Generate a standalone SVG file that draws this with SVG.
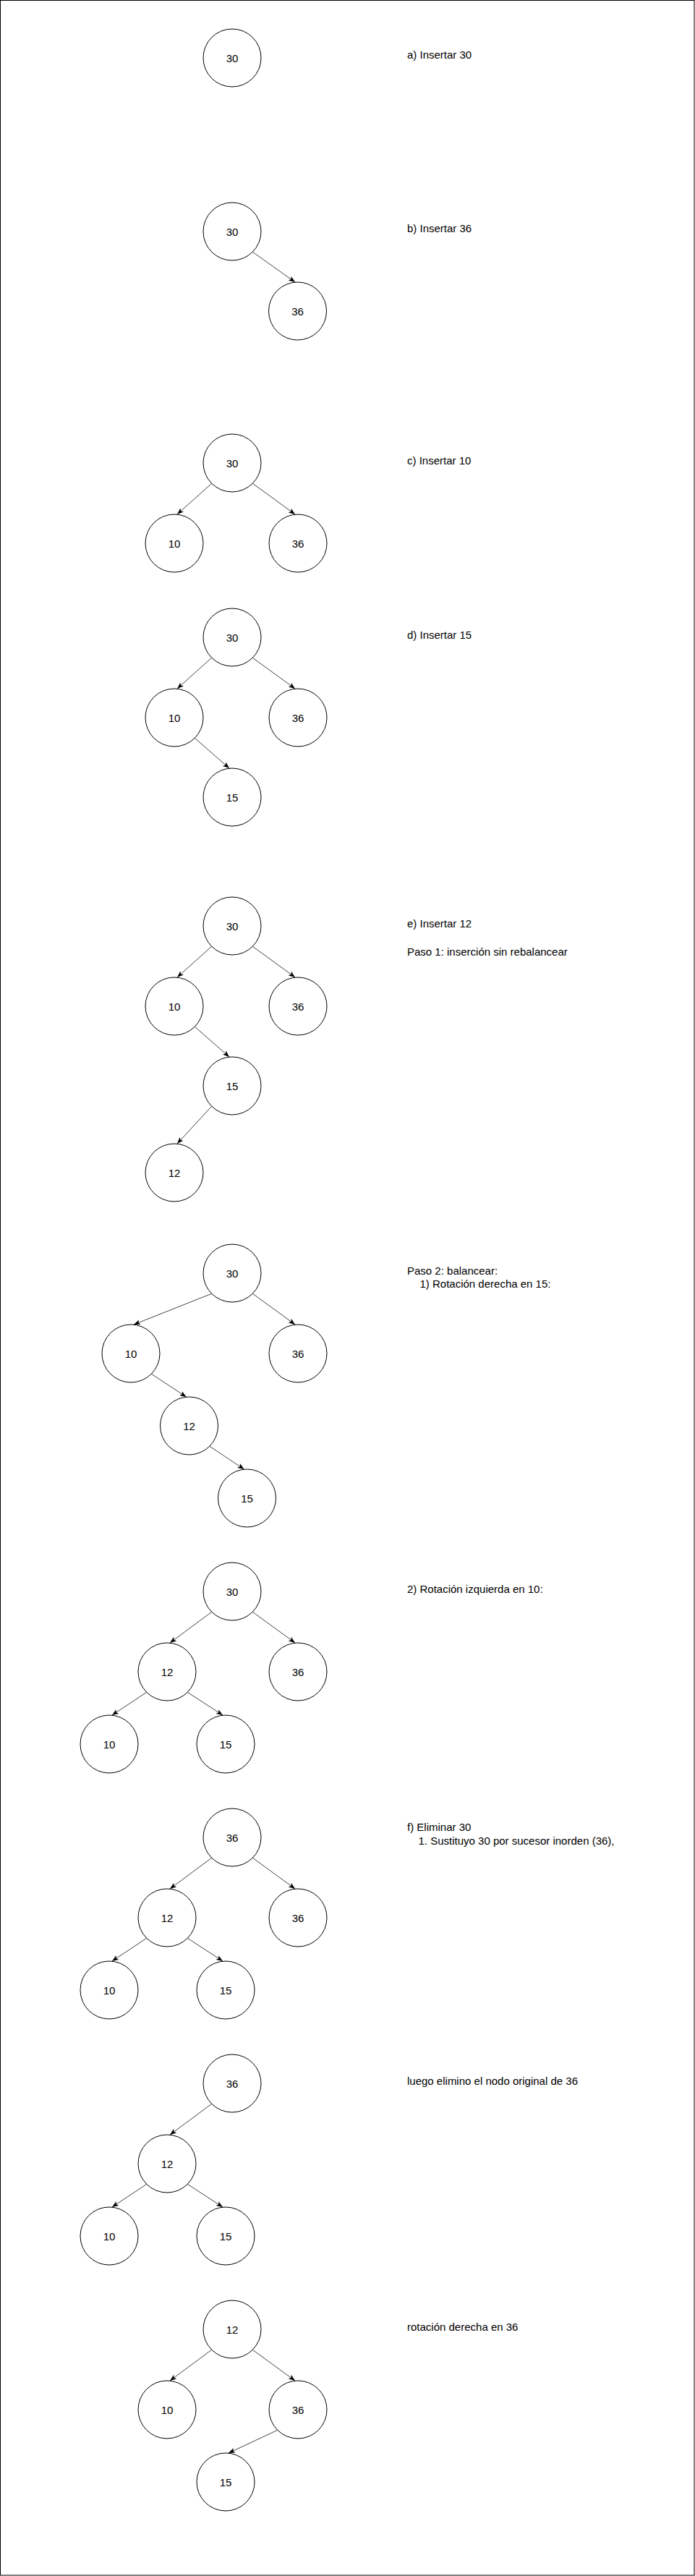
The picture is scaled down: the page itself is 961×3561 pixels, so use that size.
<svg xmlns="http://www.w3.org/2000/svg" width="961" height="3561" viewBox="0 0 961 3561">
<style>
.n ellipse{fill:#fff;stroke:#000;stroke-width:1}
.n text{font-family:"Liberation Sans",Arial,sans-serif;font-size:15px;text-anchor:middle;fill:#000}
.lbl{font-family:"Liberation Sans",Arial,sans-serif;font-size:15px;fill:#000}
.e line{stroke:#444;stroke-width:1;marker-end:url(#ah)}
</style>
<defs>
<marker id="ah" markerUnits="userSpaceOnUse" markerWidth="10" markerHeight="8" refX="9" refY="3.5" orient="auto">
<path d="M0,0 L9,3.5 L0,7 L2.2,3.5 Z" fill="#000"/>
</marker>
</defs>
<rect x="0.5" y="0.5" width="959.5" height="3559.5" fill="#fff" stroke="#000" stroke-width="1"/>
<g id="connectors" class="e">
<line x1="349.3" y1="348.3" x2="408" y2="390"/>
<line x1="292.7" y1="668.3" x2="245" y2="711"/>
<line x1="349.3" y1="668.3" x2="408" y2="711"/>
<line x1="292.7" y1="909.3" x2="245" y2="952"/>
<line x1="349.3" y1="909.3" x2="408" y2="952"/>
<line x1="269.3" y1="1020.3" x2="317" y2="1062"/>
<line x1="292.7" y1="1308.3" x2="245" y2="1351"/>
<line x1="349.3" y1="1308.3" x2="408" y2="1351"/>
<line x1="269.3" y1="1419.3" x2="317" y2="1461"/>
<line x1="292.7" y1="1529.3" x2="245" y2="1581"/>
<line x1="292.7" y1="1788.3" x2="185" y2="1831"/>
<line x1="349.3" y1="1788.3" x2="408" y2="1831"/>
<line x1="209.3" y1="1899.3" x2="257.5" y2="1931"/>
<line x1="289.8" y1="1999.3" x2="337.5" y2="2031"/>
<line x1="292.7" y1="2228.3" x2="235" y2="2271"/>
<line x1="349.3" y1="2228.3" x2="408" y2="2271"/>
<line x1="202.7" y1="2339.3" x2="155" y2="2371"/>
<line x1="259.3" y1="2339.3" x2="308" y2="2371"/>
<line x1="292.7" y1="2568.3" x2="235" y2="2611"/>
<line x1="349.3" y1="2568.3" x2="408" y2="2611"/>
<line x1="202.7" y1="2679.3" x2="155" y2="2711"/>
<line x1="259.3" y1="2679.3" x2="308" y2="2711"/>
<line x1="292.7" y1="2908.3" x2="235" y2="2951"/>
<line x1="202.7" y1="3019.3" x2="155" y2="3051"/>
<line x1="259.3" y1="3019.3" x2="308" y2="3051"/>
<line x1="292.7" y1="3248.3" x2="235" y2="3291"/>
<line x1="349.3" y1="3248.3" x2="408" y2="3291"/>
<line x1="383.7" y1="3359.3" x2="316" y2="3391"/>
</g>
<g id="a30" class="n"><ellipse cx="321" cy="80" rx="40" ry="40"/><text x="321" y="85.5">30</text></g>
<g id="b30" class="n"><ellipse cx="321" cy="320" rx="40" ry="40"/><text x="321" y="325.5">30</text></g>
<g id="b36" class="n"><ellipse cx="411.5" cy="430" rx="40" ry="40"/><text x="411.5" y="435.5">36</text></g>
<g id="c30" class="n"><ellipse cx="321" cy="640" rx="40" ry="40"/><text x="321" y="645.5">30</text></g>
<g id="c10" class="n"><ellipse cx="241" cy="751" rx="40" ry="40"/><text x="241" y="756.5">10</text></g>
<g id="c36" class="n"><ellipse cx="412" cy="751" rx="40" ry="40"/><text x="412" y="756.5">36</text></g>
<g id="d30" class="n"><ellipse cx="321" cy="881" rx="40" ry="40"/><text x="321" y="886.5">30</text></g>
<g id="d10" class="n"><ellipse cx="241" cy="992" rx="40" ry="40"/><text x="241" y="997.5">10</text></g>
<g id="d36" class="n"><ellipse cx="412" cy="992" rx="40" ry="40"/><text x="412" y="997.5">36</text></g>
<g id="d15" class="n"><ellipse cx="321" cy="1102" rx="40" ry="40"/><text x="321" y="1107.5">15</text></g>
<g id="e30" class="n"><ellipse cx="321" cy="1280" rx="40" ry="40"/><text x="321" y="1285.5">30</text></g>
<g id="e10" class="n"><ellipse cx="241" cy="1391" rx="40" ry="40"/><text x="241" y="1396.5">10</text></g>
<g id="e36" class="n"><ellipse cx="412" cy="1391" rx="40" ry="40"/><text x="412" y="1396.5">36</text></g>
<g id="e15" class="n"><ellipse cx="321" cy="1501" rx="40" ry="40"/><text x="321" y="1506.5">15</text></g>
<g id="e12" class="n"><ellipse cx="241" cy="1621" rx="40" ry="40"/><text x="241" y="1626.5">12</text></g>
<g id="p30" class="n"><ellipse cx="321" cy="1760" rx="40" ry="40"/><text x="321" y="1765.5">30</text></g>
<g id="p10" class="n"><ellipse cx="181" cy="1871" rx="40" ry="40"/><text x="181" y="1876.5">10</text></g>
<g id="p36" class="n"><ellipse cx="412" cy="1871" rx="40" ry="40"/><text x="412" y="1876.5">36</text></g>
<g id="p12" class="n"><ellipse cx="261.5" cy="1971" rx="40" ry="40"/><text x="261.5" y="1976.5">12</text></g>
<g id="p15" class="n"><ellipse cx="341.5" cy="2071" rx="40" ry="40"/><text x="341.5" y="2076.5">15</text></g>
<g id="r30" class="n"><ellipse cx="321" cy="2200" rx="40" ry="40"/><text x="321" y="2205.5">30</text></g>
<g id="r12" class="n"><ellipse cx="231" cy="2311" rx="40" ry="40"/><text x="231" y="2316.5">12</text></g>
<g id="r36" class="n"><ellipse cx="412" cy="2311" rx="40" ry="40"/><text x="412" y="2316.5">36</text></g>
<g id="r10" class="n"><ellipse cx="151" cy="2411" rx="40" ry="40"/><text x="151" y="2416.5">10</text></g>
<g id="r15" class="n"><ellipse cx="312" cy="2411" rx="40" ry="40"/><text x="312" y="2416.5">15</text></g>
<g id="f36" class="n"><ellipse cx="321" cy="2540" rx="40" ry="40"/><text x="321" y="2545.5">36</text></g>
<g id="f12" class="n"><ellipse cx="231" cy="2651" rx="40" ry="40"/><text x="231" y="2656.5">12</text></g>
<g id="f36b" class="n"><ellipse cx="412" cy="2651" rx="40" ry="40"/><text x="412" y="2656.5">36</text></g>
<g id="f10" class="n"><ellipse cx="151" cy="2751" rx="40" ry="40"/><text x="151" y="2756.5">10</text></g>
<g id="f15" class="n"><ellipse cx="312" cy="2751" rx="40" ry="40"/><text x="312" y="2756.5">15</text></g>
<g id="g36" class="n"><ellipse cx="321" cy="2880" rx="40" ry="40"/><text x="321" y="2885.5">36</text></g>
<g id="g12" class="n"><ellipse cx="231" cy="2991" rx="40" ry="40"/><text x="231" y="2996.5">12</text></g>
<g id="g10" class="n"><ellipse cx="151" cy="3091" rx="40" ry="40"/><text x="151" y="3096.5">10</text></g>
<g id="g15" class="n"><ellipse cx="312" cy="3091" rx="40" ry="40"/><text x="312" y="3096.5">15</text></g>
<g id="h12" class="n"><ellipse cx="321" cy="3220" rx="40" ry="40"/><text x="321" y="3225.5">12</text></g>
<g id="h10" class="n"><ellipse cx="231" cy="3331" rx="40" ry="40"/><text x="231" y="3336.5">10</text></g>
<g id="h36" class="n"><ellipse cx="412" cy="3331" rx="40" ry="40"/><text x="412" y="3336.5">36</text></g>
<g id="h15" class="n"><ellipse cx="312" cy="3431" rx="40" ry="40"/><text x="312" y="3436.5">15</text></g>
<g id="labels">
<text class="lbl" x="563" y="81">a) Insertar 30</text>
<text class="lbl" x="563" y="321">b) Insertar 36</text>
<text class="lbl" x="563" y="641.5">c) Insertar 10</text>
<text class="lbl" x="563" y="882.5">d) Insertar 15</text>
<text class="lbl" x="563" y="1281.5">e) Insertar 12</text>
<text class="lbl" x="563" y="1321">Paso 1: inserción sin rebalancear</text>
<text class="lbl" x="563" y="1761.5">Paso 2: balancear:</text>
<text class="lbl" x="580.5" y="1780">1) Rotación derecha en 15:</text>
<text class="lbl" x="563" y="2201.5">2) Rotación izquierda en 10:</text>
<text class="lbl" x="563" y="2531">f) Eliminar 30</text>
<text class="lbl" x="578.5" y="2550">1. Sustituyo 30 por sucesor inorden (36),</text>
<text class="lbl" x="563" y="2881.5">luego elimino el nodo original de 36</text>
<text class="lbl" x="563" y="3221.5">rotación derecha en 36</text>
</g>
</svg>
